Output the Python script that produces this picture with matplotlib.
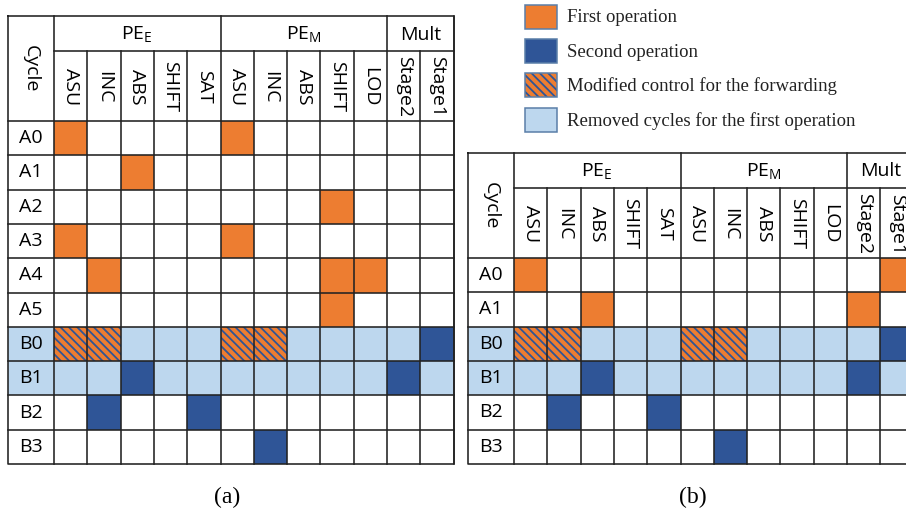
import matplotlib.pyplot as plt
from matplotlib.patches import Rectangle

plt.rcParams['font.family'] = ['Open Sans', 'DejaVu Sans']
plt.rcParams['mathtext.fontset'] = 'custom'
plt.rcParams['mathtext.rm'] = 'Open Sans'
plt.rcParams['hatch.linewidth'] = 1.3

# --- data ---
groups = ["PE$_\\mathrm{E}$", "PE$_\\mathrm{M}$", "Mult"]
group_sizes = [5, 5, 2]
units = ["ASU", "INC", "ABS", "SHIFT", "SAT",
         "ASU", "INC", "ABS", "SHIFT", "LOD",
         "Stage2", "Stage1"]

# cell codes: '.' empty, 'o' first op, 'b' second op, 'h' modified forwarding
rows_a = ["A0", "A1", "A2", "A3", "A4", "A5", "B0", "B1", "B2", "B3"]
cells_a = ["o....o......",
           "..o.........",
           "........o...",
           "o....o......",
           ".o......oo..",
           "........o...",
           "hh...hh....b",
           "..b.......b.",
           ".b..b.......",
           "......b....."]
removed_a = ["B0", "B1"]

rows_b = ["A0", "A1", "B0", "B1", "B2", "B3"]
cells_b = ["o..........o",
           "..o.......o.",
           "hh...hh....b",
           "..b.......b.",
           ".b..b.......",
           "......b....."]
removed_b = ["B0", "B1"]

legend_codes = ["o", "b", "h", "r"]
legend_labels = ["First operation", "Second operation",
                 "Modified control for the forwarding",
                 "Removed cycles for the first operation"]

ORANGE = "#ED7D31"
BLUE = "#2F5597"
LIGHT = "#BDD7EE"
LINE = "#222222"

CYC_W, COL_W = 46, 33.3
H1, H2, ROW_H = 35, 70, 34.3
FS = 14


def fill_cell(ax, x, y, w, h, code, edge=None, lw=0):
    if code == "o":
        ax.add_patch(Rectangle((x, y), w, h, facecolor=ORANGE, edgecolor=edge or "none", lw=lw))
    elif code == "b":
        ax.add_patch(Rectangle((x, y), w, h, facecolor=BLUE, edgecolor=edge or "none", lw=lw))
    elif code == "r":
        ax.add_patch(Rectangle((x, y), w, h, facecolor=LIGHT, edgecolor=edge or "none", lw=lw))
    elif code == "h":
        ax.add_patch(Rectangle((x, y), w, h, facecolor=ORANGE, edgecolor=BLUE,
                               hatch="\\\\\\\\", lw=0))
        if edge:
            ax.add_patch(Rectangle((x, y), w, h, facecolor="none", edgecolor=edge, lw=lw))


def draw_table(ax, x0, y0, rows, cells, removed):
    ncol = len(units)
    xr = x0 + CYC_W + ncol * COL_W
    ytop_data = y0 + H1 + H2
    ybot = ytop_data + len(rows) * ROW_H
    xs = [x0 + CYC_W + i * COL_W for i in range(ncol + 1)]

    # cells
    for r, (name, line) in enumerate(zip(rows, cells)):
        y = ytop_data + r * ROW_H
        if name in removed:
            ax.add_patch(Rectangle((x0, y), xr - x0, ROW_H, facecolor=LIGHT, lw=0))
        for c, code in enumerate(line):
            if code != ".":
                fill_cell(ax, xs[c], y, COL_W, ROW_H, code)
        ax.text(x0 + CYC_W / 2, y + ROW_H / 2, name, ha="center", va="center", fontsize=FS)

    # grid lines
    kw = dict(color=LINE, lw=1.15, solid_capstyle="projecting")
    ax.plot([x0, xr, xr, x0, x0], [y0, y0, ybot, ybot, y0], **kw)
    ax.plot([x0 + CYC_W, xr], [y0 + H1, y0 + H1], **kw)
    for r in range(len(rows)):
        yy = ytop_data + r * ROW_H
        ax.plot([x0, xr], [yy, yy], **kw)
    bounds = [0]
    for s in group_sizes:
        bounds.append(bounds[-1] + s)
    for i, x in enumerate(xs):
        top = y0 if i in bounds else y0 + H1
        ax.plot([x, x], [top, ybot], **kw)

    # header text
    ax.text(x0 + CYC_W / 2, y0 + (H1 + H2) / 2, "Cycle", rotation=270,
            ha="center", va="center", fontsize=FS)
    for g, name in enumerate(groups):
        xa, xb = xs[bounds[g]], xs[bounds[g + 1]]
        ax.text((xa + xb) / 2, y0 + H1 / 2 + 1, name, ha="center", va="center", fontsize=FS)
    for c, u in enumerate(units):
        ax.text(xs[c] + COL_W / 2, y0 + H1 + H2 / 2 + 1, u, rotation=270,
                ha="center", va="center", fontsize=FS)


fig = plt.figure(figsize=(9.06, 5.17), dpi=100)
ax = fig.add_axes([0, 0, 1, 1])
ax.set_xlim(0, 906)
ax.set_ylim(517, 0)
ax.axis("off")

draw_table(ax, 8, 16, rows_a, cells_a, removed_a)
draw_table(ax, 468, 153, rows_b, cells_b, removed_b)

ax.text(227, 497, "(a)", ha="center", va="center", fontsize=17, family="Liberation Serif")
ax.text(693, 497, "(b)", ha="center", va="center", fontsize=17, family="Liberation Serif")

# legend
for i, (code, label) in enumerate(zip(legend_codes, legend_labels)):
    y = 5 + i * 34.2
    fill_cell(ax, 525, y, 32, 24, code, edge="#5A7EA8", lw=1.1)
    ax.text(567, y + 13, label, ha="left", va="center", fontsize=13.5,
            family="Liberation Serif", color="#222222")

fig.savefig("out.png", dpi=100)
